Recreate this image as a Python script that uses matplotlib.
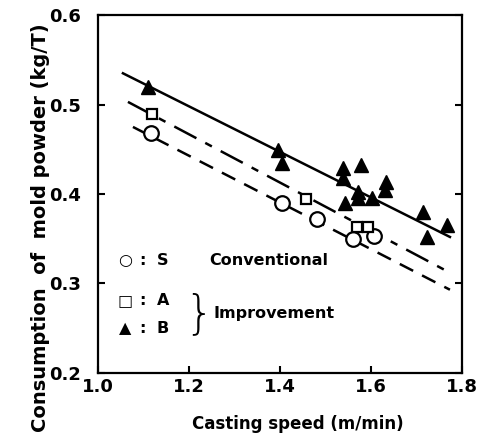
import numpy as np
import matplotlib
matplotlib.use("Agg")
import matplotlib.pyplot as plt

# Datos
s_x = [1.116, 1.404, 1.481, 1.560, 1.607]
s_y = [0.468, 0.390, 0.372, 0.350, 0.353]

a_x = [1.119, 1.457, 1.569, 1.593]
a_y = [0.490, 0.394, 0.363, 0.363]

b_x = [1.110, 1.396, 1.404, 1.538, 1.578, 1.538, 1.633, 1.631, 1.571,
       1.571, 1.602, 1.543, 1.714, 1.767, 1.723]
b_y = [0.520, 0.449, 0.435, 0.429, 0.432, 0.418, 0.413, 0.404, 0.402,
       0.396, 0.396, 0.390, 0.380, 0.365, 0.352]

# Rectas de ajuste (extremos)
fit_s_x = [1.077, 1.774]
fit_s_y = [0.475, 0.293]
fit_a_x = [1.066, 1.774]
fit_a_y = [0.503, 0.312]
fit_b_x = [1.055, 1.774]
fit_b_y = [0.535, 0.352]

xticks = [1.0, 1.2, 1.4, 1.6, 1.8]
yticks = [0.2, 0.3, 0.4, 0.5, 0.6]

# Leyenda
simbolos = ['\u25cb', '\u25a1', '\u25b2']
letras = ['S', 'A', 'B']
filas_y = [0.326, 0.281, 0.250]

plt.rcParams['font.family'] = 'DejaVu Sans'
plt.rcParams['font.weight'] = 'bold'

fig = plt.figure(figsize=(4.8, 4.45), dpi=100)
ax = fig.add_axes([0.204, 0.162, 0.758, 0.804])

ax.plot(fit_b_x, fit_b_y, color='black', lw=1.8)
ax.plot(fit_a_x, fit_a_y, color='black', lw=1.8, dashes=(10, 4, 3, 4))
ax.plot(fit_s_x, fit_s_y, color='black', lw=1.8, dashes=(6, 4))

ax.plot(s_x, s_y, 'o', ms=10.5, mfc='white', mec='black', mew=1.6, ls='none')
ax.plot(a_x, a_y, 's', ms=6.5, mfc='white', mec='black', mew=1.6, ls='none')
ax.plot(b_x, b_y, '^', ms=10, color='black', ls='none')

# Leyenda manual
for sim, let, yy in zip(simbolos, letras, filas_y):
    ax.text(1.059, yy, sim, fontsize=11.5, fontweight='bold', ha='center', va='center')
    ax.text(1.097, yy, ':', fontsize=11.5, fontweight='bold', ha='center', va='center')
    ax.text(1.143, yy, let, fontsize=11.5, fontweight='bold', ha='center', va='center')
ax.text(1.245, 0.326, 'Conventional', fontsize=11.5, fontweight='bold', va='center')
ax.text(1.19, 0.266, '}', fontsize=33, fontweight='light', va='center')
ax.text(1.255, 0.266, 'Improvement', fontsize=11.5, fontweight='bold', va='center')

ax.set_xlim(1.0, 1.8)
ax.set_ylim(0.2, 0.6)
ax.set_xticks(xticks)
ax.set_yticks(yticks)
ax.set_xticklabels(['%.1f' % v for v in xticks])
ax.set_yticklabels(['%.1f' % v for v in yticks])
ax.tick_params(direction='in', length=5, width=1.5, labelsize=13, right=True)
ax.tick_params(axis='y', pad=12)
ax.tick_params(axis='x', pad=4)
for lab in ax.get_xticklabels() + ax.get_yticklabels():
    lab.set_fontweight('bold')
for sp in ax.spines.values():
    sp.set_linewidth(1.6)

ax.set_xlabel('Casting speed (m/min)', fontsize=12, fontweight='bold')
ax.set_ylabel('Consumption  of  mold powder (kg/T)', fontsize=14, fontweight='bold')
ax.xaxis.set_label_coords(0.55, -0.117)
ax.yaxis.set_label_coords(-0.132, 0.405)

fig.savefig('out.png', dpi=100)
